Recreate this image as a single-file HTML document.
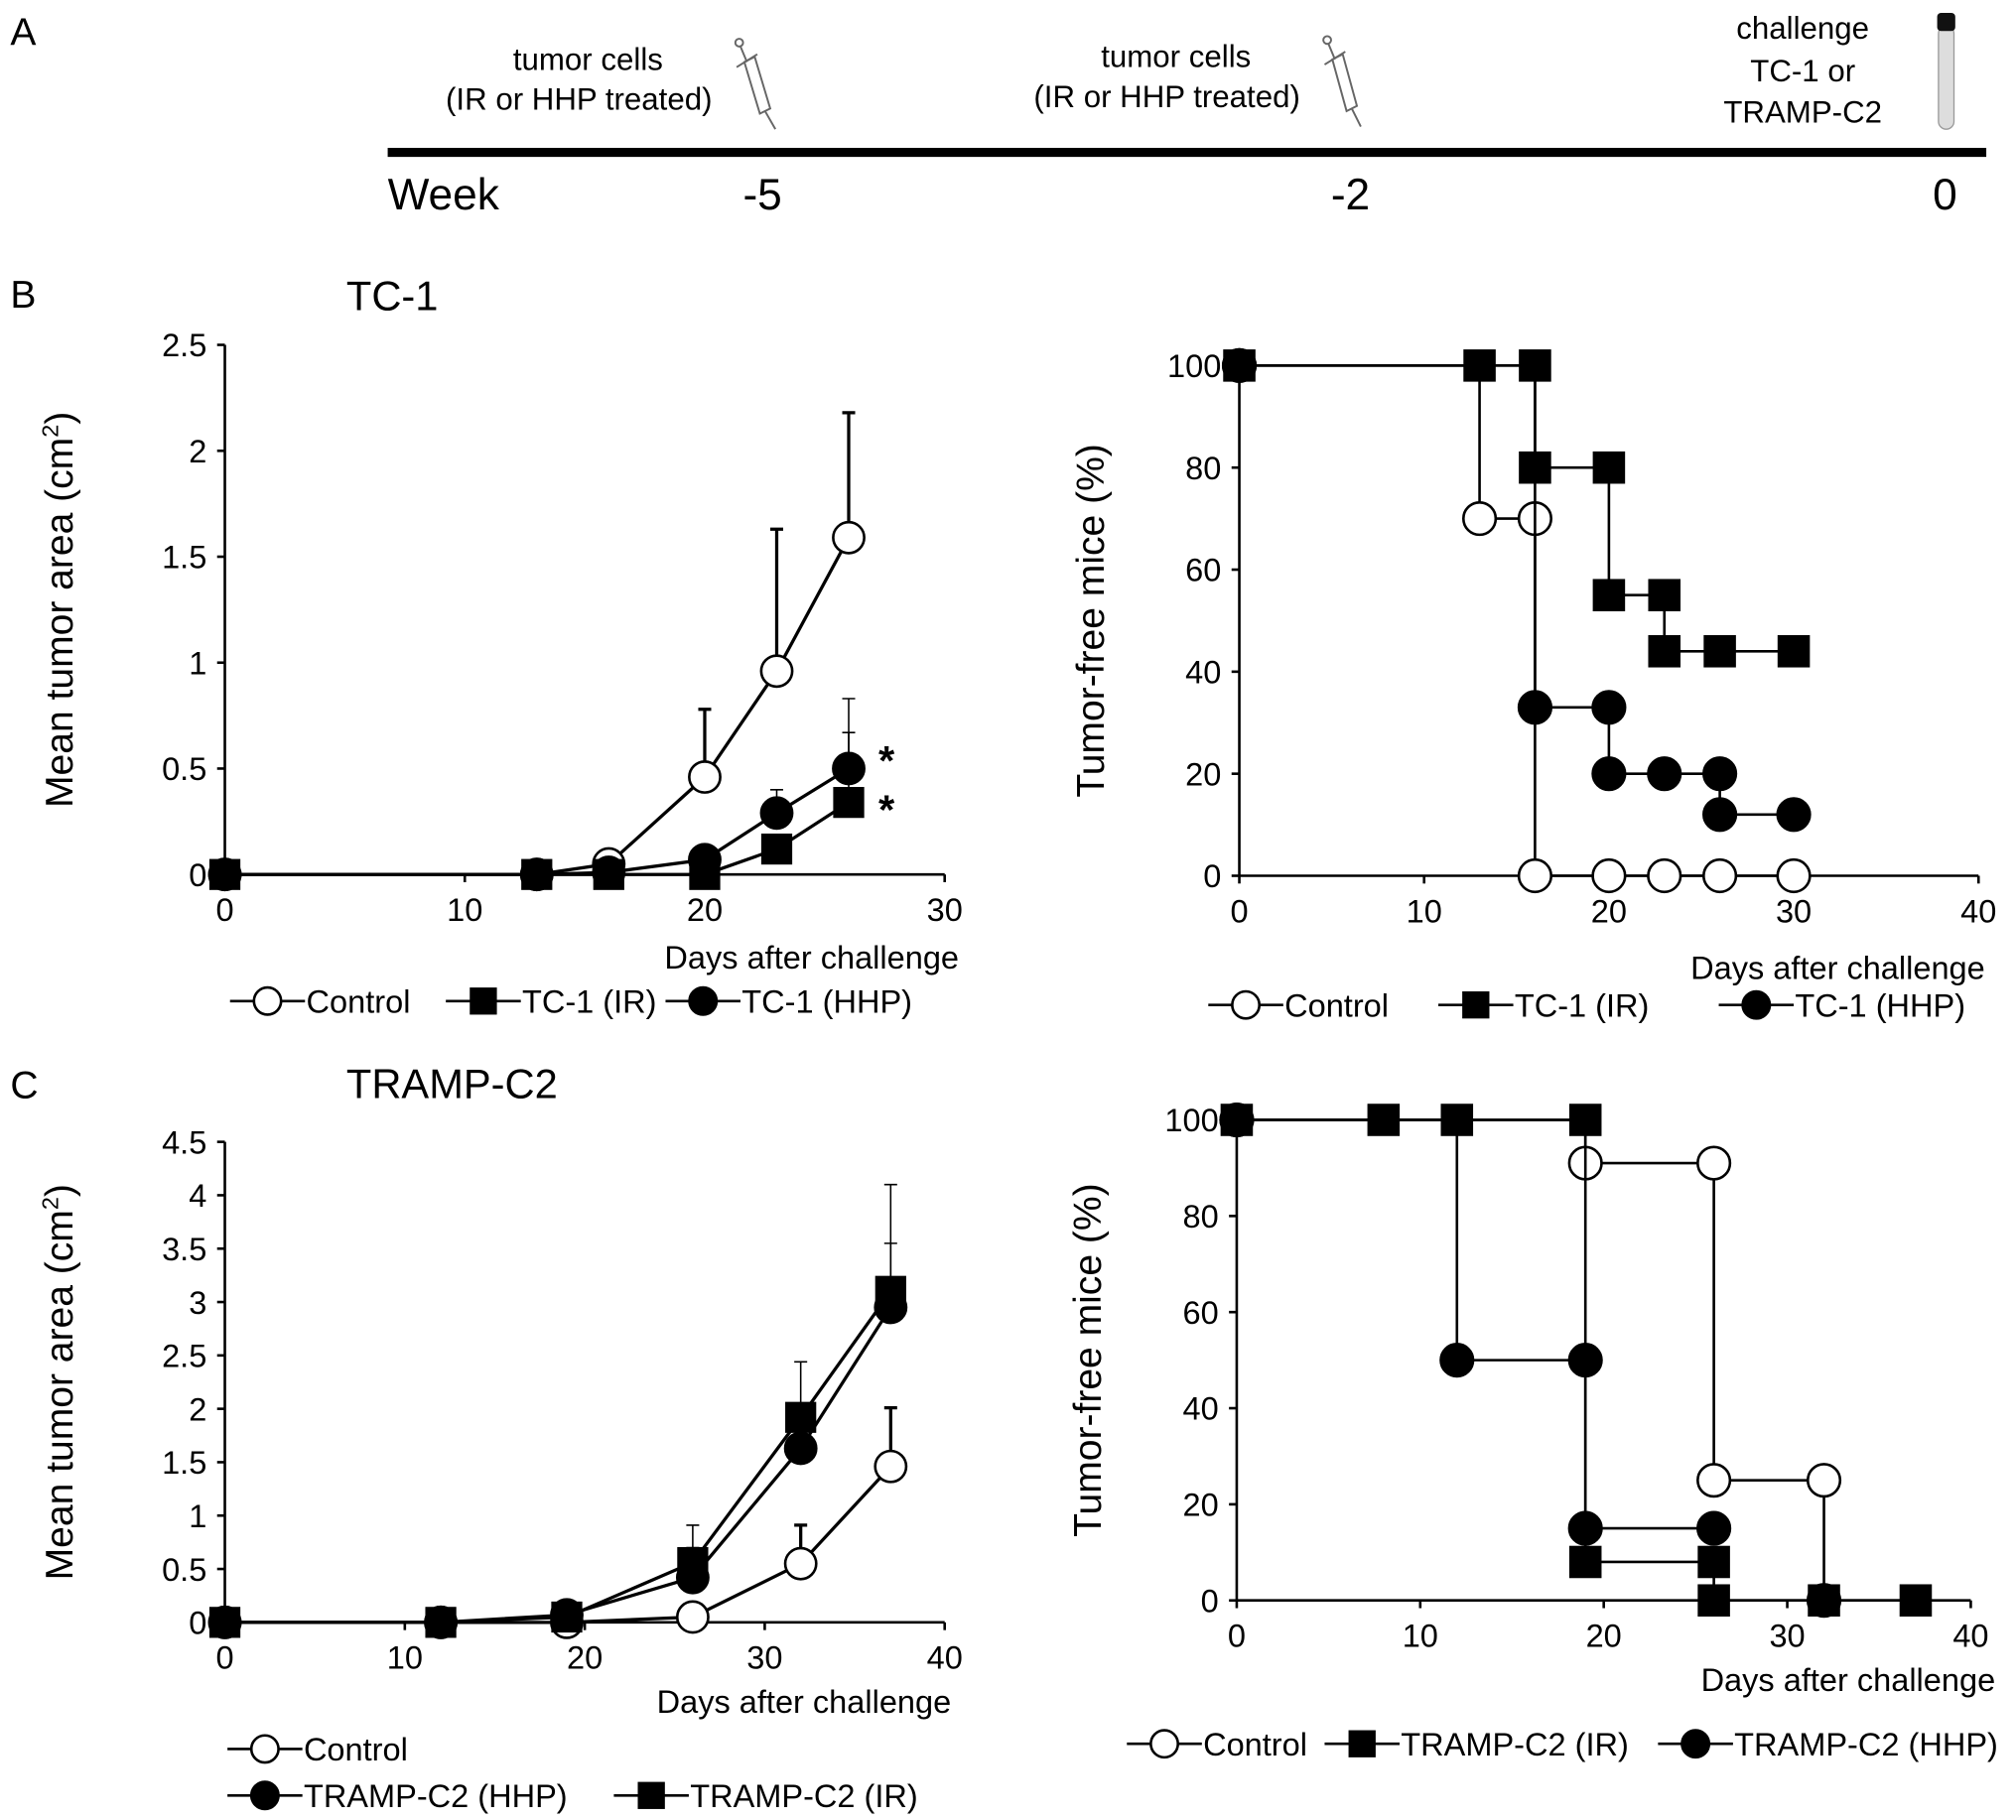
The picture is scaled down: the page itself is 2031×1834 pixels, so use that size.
<!DOCTYPE html>
<html><head><meta charset="utf-8"><style>
html,body{margin:0;padding:0;background:#fff}
svg{display:block}
text{font-family:"Liberation Sans",sans-serif;fill:#000}
</style></head><body>
<svg id="fig" width="2031" height="1834" viewBox="0 0 1560 1409" preserveAspectRatio="none" xmlns="http://www.w3.org/2000/svg">
<g>
<text x="8" y="35" font-size="30">A</text>
<line x1="300" y1="118" x2="1537" y2="118" stroke="#000" stroke-width="7"/>
<text x="300" y="162" font-size="34">Week</text>
<text x="590" y="162" font-size="34" text-anchor="middle">-5</text>
<text x="1045" y="162" font-size="34" text-anchor="middle">-2</text>
<text x="1505" y="162" font-size="34" text-anchor="middle">0</text>
<text x="455" y="54" font-size="24" text-anchor="middle">tumor cells</text>
<text x="448" y="85" font-size="24" text-anchor="middle">(IR or HHP treated)</text>
<text x="910" y="52" font-size="24" text-anchor="middle">tumor cells</text>
<text x="903" y="83" font-size="24" text-anchor="middle">(IR or HHP treated)</text>
<text x="1395" y="30" font-size="24" text-anchor="middle">challenge</text>
<text x="1395" y="63" font-size="24" text-anchor="middle">TC-1 or</text>
<text x="1395" y="95" font-size="24" text-anchor="middle">TRAMP-C2</text>
<g stroke="#666" fill="none" stroke-width="1.5">
<circle cx="572" cy="33" r="3"/><line x1="573" y1="36" x2="578" y2="48"/><line x1="570" y1="52" x2="586" y2="42"/>
<path d="M576 48 L584 44 L596 84 L588 88 Z"/><line x1="592" y1="86" x2="600" y2="100"/></g>
<g stroke="#666" fill="none" stroke-width="1.5">
<circle cx="1027" cy="31" r="3"/><line x1="1028" y1="34" x2="1033" y2="46"/><line x1="1025" y1="50" x2="1041" y2="40"/>
<path d="M1031 46 L1039 42 L1050 82 L1042 86 Z"/><line x1="1046" y1="84" x2="1053" y2="98"/></g>
<g>
<rect x="1500" y="20" width="12" height="80" rx="6" fill="#ddd" stroke="#999"/>
<rect x="1499" y="10" width="14" height="14" rx="3" fill="#111"/></g>
</g>
<text x="8" y="238" font-size="30">B</text>
<text x="268" y="240" font-size="32">TC-1</text>
<text x="8" y="850" font-size="30">C</text>
<text x="268" y="850" font-size="32">TRAMP-C2</text>
<g id="bl"></g>
<g id="br"></g>
<g id="cl"></g>
<g id="cr"></g>
</svg>
<script>
// Panel B left: TC-1 tumor area
const bDays = [0,13,16,20,23,26];
const bCtrl = [0,0,0.05,0.46,0.96,1.59];
const bCtrlErr = [0,0,0,0.78,1.63,2.18];
const bIR = [0,0,0,0,0.12,0.34];
const bIRErr = [0,0,0,0,0,0.67];
const bHHP = [0,0,0.01,0.07,0.29,0.50];
const bHHPErr = [0,0,0,0,0.40,0.83];
const bXTicks = [0,10,20,30];
const bYTicks = [0,0.5,1,1.5,2,2.5];
// Panel B right: TC-1 survival
const brXTicks = [0,10,20,30,40];
const brYTicks = [0,20,40,60,80,100];
const brCtrlDays = [0,13,16,16,20,23,26,30];
const brCtrlVals = [100,70,70,0,0,0,0,0];
const brIRDays = [0,13,16,16,20,20,23,23,26,30];
const brIRVals = [100,100,100,80,80,55,55,44,44,44];
const brHHPDays = [0,16,20,20,23,26,26,30];
const brHHPVals = [100,33,33,20,20,20,12,12];
// Panel C left: TRAMP-C2 tumor area
const cDays = [0,12,19,26,32,37];
const cCtrl = [0,0,0,0.05,0.55,1.46];
const cCtrlErr = [0,0,0,0,0.91,2.01];
const cHHP = [0,0,0.07,0.42,1.63,2.95];
const cHHPErr = [0,0,0,0.70,1.90,3.55];
const cIR = [0,0,0.05,0.56,1.92,3.10];
const cIRErr = [0,0,0,0.91,2.44,4.10];
const cXTicks = [0,10,20,30,40];
const cYTicks = [0,0.5,1,1.5,2,2.5,3,3.5,4,4.5];
// Panel C right: TRAMP-C2 survival
const crXTicks = [0,10,20,30,40];
const crYTicks = [0,20,40,60,80,100];
const crCtrlDays = [0,19,26,26,32,32];
const crCtrlVals = [100,91,91,25,25,0];
const crIRDays = [0,8,12,19,19,26,26,32,37];
const crIRVals = [100,100,100,100,8,8,0,0,0];
const crHHPDays = [0,12,19,19,26];
const crHHPVals = [100,50,50,15,15];

const NS='http://www.w3.org/2000/svg';
function mk(parent,tag,attrs){const e=document.createElementNS(NS,tag);for(const k in attrs)e.setAttribute(k,attrs[k]);parent.appendChild(e);return e;}
function axes(g,x0,x1,xmax,y0,y1,ymax,xt,yt,yTitle,xTitleX,xTitleY){
  const sx=v=>x0+(x1-x0)*v/xmax, sy=v=>y0-(y0-y1)*v/ymax;
  const xa=mk(g,'line',{x1:x0,y1:y0,x2:x1,y2:y0,stroke:'#000','stroke-width':2});
  
  
  const ya=mk(g,'line',{x1:x0,y1:y0,x2:x0,y2:y1,stroke:'#000','stroke-width':2});
  
  
  xt.forEach(v=>{mk(g,'line',{x1:sx(v),y1:y0,x2:sx(v),y2:y0+6,stroke:'#000','stroke-width':2});
    const t=mk(g,'text',{x:sx(v),y:y0+36,'font-size':25,'text-anchor':'middle'});t.textContent=v;
    
    });
  yt.forEach(v=>{mk(g,'line',{x1:x0-6,y1:sy(v),x2:x0,y2:sy(v),stroke:'#000','stroke-width':2});
    const t=mk(g,'text',{x:x0-14,y:sy(v)+9,'font-size':25,'text-anchor':'end'});t.textContent=v;
    
    });
  const xtl=mk(g,'text',{x:xTitleX,y:xTitleY,'font-size':25,'text-anchor':'end'});xtl.textContent='Days after challenge';
  
  
  const cy=(y0+y1)/2, cx=x0-(yt[yt.length-1]>=100?105:118);
  const ytl=mk(g,'text',{x:cx,y:cy,'font-size':30,'text-anchor':'middle',transform:`rotate(-90 ${cx} ${cy})`});
  
  
  if(yTitle==='area'){ytl.innerHTML='Mean tumor area (cm<tspan dy="-11" font-size="18">2</tspan><tspan dy="11">)</tspan>';}
  else ytl.textContent='Tumor-free mice (%)';
  return {sx,sy};
}
function marker(g,type,x,y,r){
  let e;
  if(type==='sq') e=mk(g,'rect',{x:x-r,y:y-r,width:2*r,height:2*r,fill:'#000'});
  else e=mk(g,'circle',{cx:x,cy:y,r:r,fill:type==='open'?'#fff':'#000',stroke:'#000','stroke-width':2});
  
  
}
function growth(g,s,days,vals,errs,type,name,ew){
  const p=mk(g,'polyline',{points:days.map((d,i)=>s.sx(d)+','+s.sy(vals[i])).join(' '),fill:'none',stroke:'#000','stroke-width':2.5});
  
  
  days.forEach((d,i)=>{if(errs[i]>vals[i]){const x=s.sx(d);
    const e=mk(g,'path',{d:`M${x} ${s.sy(vals[i])}V${s.sy(errs[i])}M${x-5} ${s.sy(errs[i])}H${x+5}`,stroke:'#000','stroke-width':ew,fill:'none'});
    
    }});
  days.forEach((d,i)=>marker(g,type,s.sx(d),s.sy(vals[i]),12));
}
function km(g,s,days,vals,type,name){
  let d='M'+s.sx(days[0])+' '+s.sy(vals[0]);
  for(let i=1;i<days.length;i++) d+=`H${s.sx(days[i])}V${s.sy(vals[i])}`;
  const p=mk(g,'path',{d:d,fill:'none',stroke:'#000','stroke-width':2});
  
  
  days.forEach((dd,i)=>marker(g,type,s.sx(dd),s.sy(vals[i]),12.5));
}
function legend(g,items){
  items.forEach(it=>{const lg=mk(g,'g',{});
    
    
    mk(lg,'line',{x1:it[0],y1:it[1],x2:it[0]+58,y2:it[1],stroke:'#000','stroke-width':2});
    marker(lg,it[2],it[0]+29,it[1],10.5);
    const t=mk(lg,'text',{x:it[0]+59,y:it[1]+9,'font-size':25});t.textContent=it[3];});
}
// B left
{const g=document.getElementById('bl');
 const s=axes(g,174,731,30,677,267,2.5,bXTicks,bYTicks,'area',742,750);
 growth(g,s,bDays,bCtrl,bCtrlErr,'open','control',2.5);
 growth(g,s,bDays,bHHP,bHHPErr,'filled','tc1-hhp',1.2);
 growth(g,s,bDays,bIR,bIRErr,'sq','tc1-ir',1.2);
 [[686,600],[686,638]].forEach(p=>{const t=mk(g,'text',{x:p[0],y:p[1],'font-size':32,'font-weight':'bold','text-anchor':'middle'});t.textContent='*';
   
   });
 legend(g,[[178,775,'open','Control'],[345,775,'sq','TC-1 (IR)'],[515,775,'filled','TC-1 (HHP)']]);}
// B right
{const g=document.getElementById('br');
 const s=axes(g,959,1531,40,678,283,100,brXTicks,brYTicks,'pct',1536,758);
 km(g,s,brCtrlDays,brCtrlVals,'open','control');
 km(g,s,brHHPDays,brHHPVals,'filled','tc1-hhp');
 km(g,s,brIRDays,brIRVals,'sq','tc1-ir');
 legend(g,[[935,778,'open','Control'],[1113,778,'sq','TC-1 (IR)'],[1330,778,'filled','TC-1 (HHP)']]);}
// C left
{const g=document.getElementById('cl');
 const s=axes(g,174,731,40,1256,884,4.5,cXTicks,cYTicks,'area',736,1326);
 growth(g,s,cDays,cCtrl,cCtrlErr,'open','control',2.5);
 growth(g,s,cDays,cHHP,cHHPErr,'filled','trampc2-hhp',1.2);
 growth(g,s,cDays,cIR,cIRErr,'sq','trampc2-ir',1.2);
 legend(g,[[176,1354,'open','Control'],[176,1390,'filled','TRAMP-C2 (HHP)'],[475,1390,'sq','TRAMP-C2 (IR)']]);}
// C right
{const g=document.getElementById('cr');
 const s=axes(g,957,1525,40,1239,867,100,crXTicks,crYTicks,'pct',1544,1309);
 km(g,s,crCtrlDays,crCtrlVals,'open','control');
 km(g,s,crHHPDays,crHHPVals,'filled','trampc2-hhp');
 km(g,s,crIRDays,crIRVals,'sq','trampc2-ir');
 legend(g,[[872,1350,'open','Control'],[1025,1350,'sq','TRAMP-C2 (IR)'],[1283,1350,'filled','TRAMP-C2 (HHP)']]);}
</script>
</body></html>
